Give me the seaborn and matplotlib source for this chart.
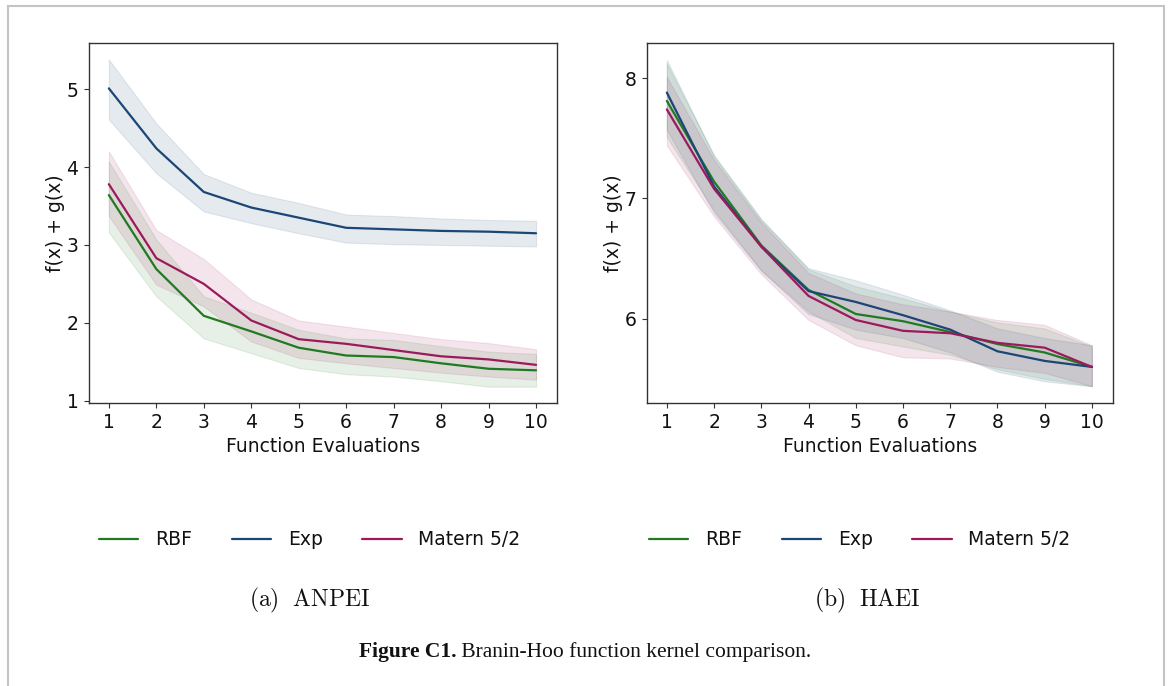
import numpy as np
import pandas as pd
import matplotlib
matplotlib.use("Agg")
import matplotlib.pyplot as plt
import seaborn as sns
from matplotlib.patches import Rectangle
from matplotlib.lines import Line2D

evals = [1, 2, 3, 4, 5, 6, 7, 8, 9, 10]
kernels = ["RBF", "Exp", "Matern 5/2"]
colors = {"RBF": "#217a21", "Exp": "#1b4676", "Matern 5/2": "#9c1a5b"}

# (a) ANPEI : mean and band per kernel
anpei_rbf = [3.64, 2.69, 2.09, 1.89, 1.68, 1.58, 1.56, 1.48, 1.41, 1.39]
anpei_rbf_lo = [3.16, 2.34, 1.80, 1.61, 1.42, 1.34, 1.31, 1.25, 1.18, 1.18]
anpei_rbf_hi = [4.07, 3.07, 2.34, 2.13, 1.91, 1.80, 1.78, 1.70, 1.63, 1.60]
anpei_exp = [5.01, 4.24, 3.68, 3.48, 3.35, 3.22, 3.20, 3.18, 3.17, 3.15]
anpei_exp_lo = [4.61, 3.92, 3.43, 3.28, 3.15, 3.03, 3.01, 3.00, 2.99, 2.98]
anpei_exp_hi = [5.38, 4.56, 3.91, 3.67, 3.54, 3.39, 3.37, 3.34, 3.32, 3.31]
anpei_mat = [3.78, 2.83, 2.50, 2.03, 1.79, 1.73, 1.65, 1.57, 1.53, 1.46]
anpei_mat_lo = [3.37, 2.49, 2.21, 1.76, 1.55, 1.48, 1.42, 1.36, 1.31, 1.27]
anpei_mat_hi = [4.20, 3.19, 2.82, 2.30, 2.03, 1.95, 1.87, 1.79, 1.74, 1.66]

# (b) HAEI
haei_rbf = [7.81, 7.14, 6.61, 6.24, 6.04, 5.98, 5.89, 5.79, 5.72, 5.60]
haei_rbf_lo = [7.51, 6.90, 6.40, 6.06, 5.84, 5.77, 5.70, 5.58, 5.50, 5.44]
haei_rbf_hi = [8.12, 7.36, 6.83, 6.41, 6.27, 6.17, 6.06, 5.97, 5.92, 5.77]
haei_exp = [7.88, 7.10, 6.60, 6.23, 6.14, 6.03, 5.91, 5.73, 5.65, 5.60]
haei_exp_lo = [7.57, 6.88, 6.40, 6.04, 5.91, 5.84, 5.72, 5.56, 5.48, 5.44]
haei_exp_hi = [8.15, 7.35, 6.82, 6.42, 6.32, 6.20, 6.07, 5.92, 5.84, 5.78]
haei_mat = [7.74, 7.08, 6.60, 6.19, 5.99, 5.90, 5.88, 5.80, 5.76, 5.60]
haei_mat_lo = [7.44, 6.85, 6.37, 5.99, 5.78, 5.68, 5.67, 5.60, 5.55, 5.44]
haei_mat_hi = [8.01, 7.32, 6.80, 6.38, 6.21, 6.12, 6.06, 5.99, 5.95, 5.78]


def frame(mean, lo, hi):
    rows = []
    for k in kernels:
        for x, m, l, h in zip(evals, mean[k], lo[k], hi[k]):
            rows.append({"evals": x, "value": m, "lo": l, "hi": h, "kernel": k})
    return pd.DataFrame(rows)


df_a = frame({"RBF": anpei_rbf, "Exp": anpei_exp, "Matern 5/2": anpei_mat},
             {"RBF": anpei_rbf_lo, "Exp": anpei_exp_lo, "Matern 5/2": anpei_mat_lo},
             {"RBF": anpei_rbf_hi, "Exp": anpei_exp_hi, "Matern 5/2": anpei_mat_hi})
df_b = frame({"RBF": haei_rbf, "Exp": haei_exp, "Matern 5/2": haei_mat},
             {"RBF": haei_rbf_lo, "Exp": haei_exp_lo, "Matern 5/2": haei_mat_lo},
             {"RBF": haei_rbf_hi, "Exp": haei_exp_hi, "Matern 5/2": haei_mat_hi})

sns.set_style("ticks")
plt.rcParams["font.family"] = ["DejaVu Sans"]
plt.rcParams["mathtext.fontset"] = "cm"
for key in ["text.color", "axes.labelcolor", "xtick.color", "ytick.color"]:
    plt.rcParams[key] = "#111111"

fs = 13.5

fig = plt.figure(figsize=(11.7, 6.86), dpi=100)
ax1 = fig.add_axes([0.076, 0.4125, 0.400, 0.5245])
ax2 = fig.add_axes([0.553, 0.4125, 0.398, 0.5245])


def draw(ax, df, ylim, yticks, legx):
    for k in kernels:
        sub = df[df.kernel == k]
        ax.fill_between(sub.evals, sub.lo, sub.hi, color=colors[k], alpha=0.11, lw=0.8)
    sns.lineplot(data=df, x="evals", y="value", hue="kernel", palette=colors,
                 hue_order=kernels, lw=1.6, ax=ax, legend=False)
    ax.set_xlim(0.58, 10.44)
    ax.set_ylim(*ylim)
    ax.set_xticks(evals)
    ax.set_yticks(yticks)
    ax.tick_params(labelsize=fs, length=3.5, width=0.8, color="#333333", pad=4)
    for s in ax.spines.values():
        s.set_color("#333333")
        s.set_linewidth(1.0)
    ax.set_xlabel("Function Evaluations", fontsize=fs, labelpad=3)
    ax.set_ylabel("f(x) + g(x)", fontsize=fs, labelpad=1)
    handles = [Line2D([], [], color=colors[k], lw=1.6) for k in kernels]
    ax.legend(handles, kernels, loc="center", bbox_to_anchor=(legx, -0.38), ncol=3,
              frameon=False, fontsize=fs, handlelength=2.1, handletextpad=0.9,
              columnspacing=2.1)


draw(ax1, df_a, (0.97, 5.59), [1, 2, 3, 4, 5], 0.472)
draw(ax2, df_b, (5.30, 8.29), [6, 7, 8], 0.457)

fig.text(0.265, 0.125, r"$\mathrm{(a)\ \ ANPEI}$", ha="center", va="center", fontsize=17)
fig.text(0.741, 0.125, r"$\mathrm{(b)\ \ HAEI}$", ha="center", va="center", fontsize=17)

# caption: bold label followed by regular text
cap_y = 0.05
t1 = fig.text(0, cap_y, "Figure C1.", family="Liberation Serif", weight="bold",
              fontsize=15.5, va="center", ha="left")
t2 = fig.text(0, cap_y, " Branin-Hoo function kernel comparison.", family="Liberation Serif",
              fontsize=15.5, va="center", ha="left")
fig.canvas.draw()
r = fig.canvas.get_renderer()
w1 = t1.get_window_extent(r).width / fig.bbox.width
w2 = t2.get_window_extent(r).width / fig.bbox.width
x0 = 0.5 - (w1 + w2) / 2
t1.set_x(x0)
t2.set_x(x0 + w1)

fig.patches.append(Rectangle((8 / 1170, -0.2), (1164 - 8) / 1170, 1.2 - 6 / 686,
                             transform=fig.transFigure, fill=False,
                             edgecolor="#c4c4c4", lw=1.5))

fig.savefig("out.png", dpi=100)
